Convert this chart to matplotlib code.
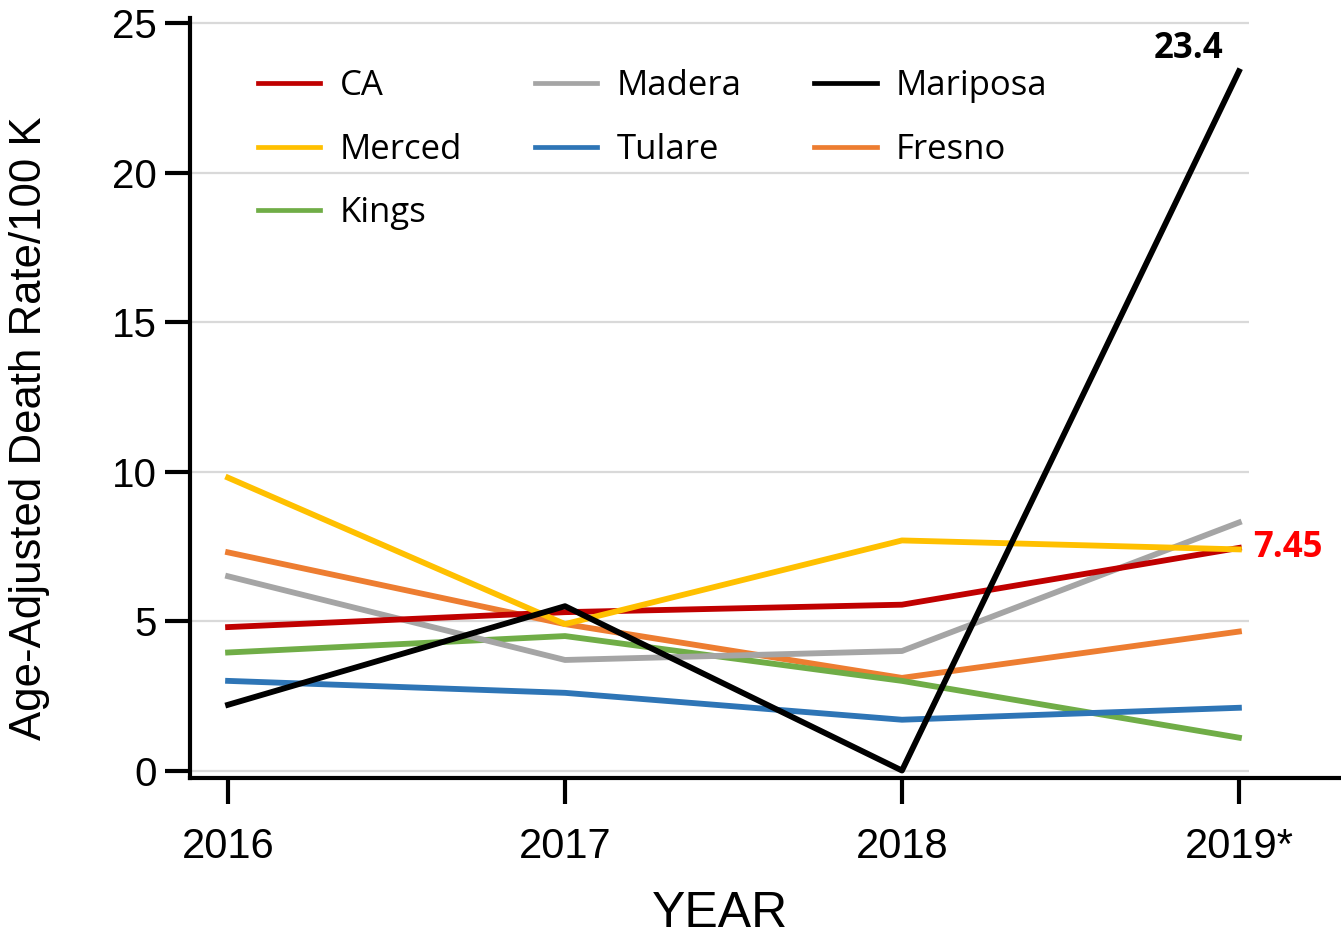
import matplotlib.pyplot as plt

# data
years = ['2016', '2017', '2018', '2019*']
ca = [4.8, 5.3, 5.55, 7.45]
madera = [6.5, 3.7, 4.0, 8.3]
mariposa = [2.2, 5.5, 0.0, 23.4]
merced = [9.8, 4.9, 7.7, 7.4]
tulare = [3.0, 2.6, 1.7, 2.1]
fresno = [7.3, 4.9, 3.1, 4.65]
kings = [3.95, 4.5, 3.0, 1.1]

x = list(range(len(years)))

fig = plt.figure(figsize=(13.41, 9.39), dpi=100)
ax = fig.add_axes([190 / 1341, 161 / 939, 1151 / 1341, 760.5 / 939])
ax.set_xlim(-0.113, 3.303)
ax.set_ylim(-0.25, 25.2)

# light gridlines that stop short of the right end
ax.hlines([0, 5, 10, 15, 20, 25], -0.113, 3.03, colors='#d9d9d9', lw=1.6, zorder=0)

lw = 4.2
l_fresno, = ax.plot(x, fresno, color='#ed7d31', lw=lw, label='Fresno')
l_kings, = ax.plot(x, kings, color='#70ad47', lw=lw, label='Kings')
l_tulare, = ax.plot(x, tulare, color='#2e75b6', lw=lw, label='Tulare')
l_madera, = ax.plot(x, madera, color='#a5a5a5', lw=lw, label='Madera')
l_ca, = ax.plot(x, ca, color='#c00000', lw=lw, label='CA')
l_merced, = ax.plot(x, merced, color='#ffc000', lw=lw, label='Merced')
l_mariposa, = ax.plot(x, mariposa, color='black', lw=lw, label='Mariposa')

# value callouts
ax.annotate('23.4', (3, mariposa[3]), xytext=(-36, 3), textcoords='offset points',
            ha='center', va='bottom', fontsize=25, fontweight='bold', family='Open Sans')
ax.annotate('7.45', (3, ca[3]), xytext=(10, 0), textcoords='offset points',
            ha='left', va='center', fontsize=25, fontweight='bold', color='red', family='Open Sans')

# legend: column-major order so rows read CA, Madera, Mariposa ...
handles = [l_ca, l_merced, l_kings, l_madera, l_tulare, l_mariposa, l_fresno]
leg = ax.legend(handles=handles, labels=[h.get_label() for h in handles],
                ncol=3, loc='upper left', bbox_to_anchor=(0.047, 0.95),
                frameon=False, prop={'family': 'Open Sans', 'size': 25},
                handlelength=1.8, handletextpad=0.55, columnspacing=2.1,
                labelspacing=0.85, borderaxespad=0)
for h in leg.get_lines():
    h.set_linewidth(3.4)

# axes styling
for s in ['top', 'right']:
    ax.spines[s].set_visible(False)
ax.spines['left'].set_linewidth(3)
ax.spines['bottom'].set_linewidth(3)

ax.set_yticks([0, 5, 10, 15, 20, 25])
ax.set_xticks(x)
ax.set_xticklabels(years)
ax.tick_params(axis='y', length=18, width=3, pad=6, labelsize=29)
ax.tick_params(axis='x', length=19, width=3, pad=16, labelsize=30)
for t in ax.get_yticklabels() + ax.get_xticklabels():
    t.set_family('Liberation Sans')

ax.set_xlabel('YEAR', fontsize=36, family='Liberation Sans')
ax.xaxis.set_label_coords(0.46, -0.148)
ax.set_ylabel('Age-Adjusted Death Rate/100 K', fontsize=31.5, family='Liberation Sans')
ax.yaxis.set_label_coords(-0.122, 0.46)

fig.savefig('out.png', dpi=100)
